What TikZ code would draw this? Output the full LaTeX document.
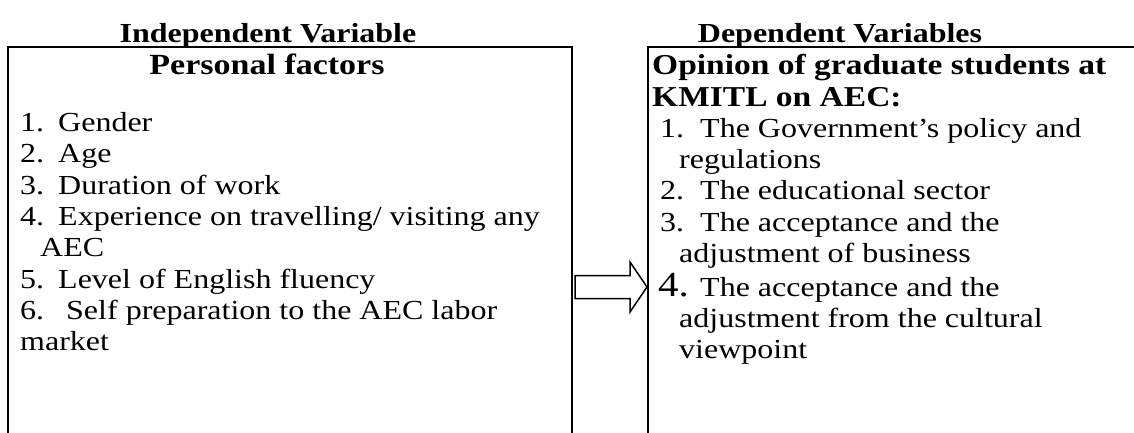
\documentclass[tikz,border=0pt]{standalone}
\usepackage{fontspec}
\setmainfont{Liberation Serif}
\usepackage{tikz}
\usetikzlibrary{calc, positioning}
\newcommand{\lowtext}[1]{\scalebox{1}[0.86]{#1}}

\begin{document}
\begin{tikzpicture}[
    x=1pt, y=-1pt,
    frame/.style={draw, line width=2.2pt},
    title/.style={inner sep=0pt, anchor=base, font=\fontsize{32}{32}\selectfont\bfseries},
    heading/.style={inner sep=0pt, font=\fontsize{33.5}{33.5}\selectfont\bfseries},
    item/.style={inner sep=0pt, anchor=base west, font=\fontsize{32}{32}\selectfont},
    bignum/.style={inner sep=0pt, anchor=base west, font=\fontsize{41}{41}\selectfont},
    blockarrow/.style={draw, line width=1.5pt, line join=miter}
]
    \clip (0,0) rectangle (1134,432);
    \useasboundingbox (0,0) rectangle (1134,432);

    % the two frames run past the edges of the picture
    \draw[frame] (8,47) rectangle (572,480);
    \draw[frame] (648,47) rectangle (1180,480);
    \coordinate (tail) at (575,287);
    \coordinate (tip) at (647,287);

    % independent side
    \node[title] (indep) at (268,42) {\lowtext{Independent Variable}};
    \node[heading, anchor=base] (personal) at (267,74) {\lowtext{\fontsize{34}{34}\selectfont Personal factors}};
    \node[item] (n1) at (20,131) {\lowtext{1.}};
    \node[item] (i1) at (58,131) {\lowtext{Gender}};
    \node[item] (n2) at (20,162.5) {\lowtext{2.}};
    \node[item] (i2) at (58,162.5) {\lowtext{Age}};
    \node[item] (n3) at (20,194) {\lowtext{3.}};
    \node[item] (i3) at (58,194) {\lowtext{Duration of work}};
    \node[item] (n4) at (20,225) {\lowtext{4.}};
    \node[item] (i4) at (58,225) {\lowtext{Experience on travelling/ visiting any}};
    \node[item] (i4b) at (40,256) {\lowtext{AEC}};
    \node[item] (n5) at (20,288) {\lowtext{5.}};
    \node[item] (i5) at (58,288) {\lowtext{Level of English fluency}};
    \node[item] (n6) at (20,319) {\lowtext{6.}};
    \node[item] (i6) at (66,319) {\lowtext{Self preparation to the AEC labor}};
    \node[item] (i6b) at (20,350) {\lowtext{market}};

    % dependent side
    \node[title] (dep) at (840,42) {\lowtext{Dependent Variables}};
    \node[heading, anchor=base west] (opin) at (652,74) {\lowtext{Opinion of graduate students at}};
    \node[heading, anchor=base west] (opinb) at (652,106) {\lowtext{KMITL on AEC:}};
    \node[item] (m1) at (660,137) {\lowtext{1.}};
    \node[item] (j1) at (700,137) {\lowtext{The Government’s policy and}};
    \node[item] (j1b) at (679,168) {\lowtext{regulations}};
    \node[item] (m2) at (660,199) {\lowtext{2.}};
    \node[item] (j2) at (700,199) {\lowtext{The educational sector}};
    \node[item] (m3) at (660,231) {\lowtext{3.}};
    \node[item] (j3) at (700,231) {\lowtext{The acceptance and the}};
    \node[item] (j3b) at (679,262) {\lowtext{adjustment of business}};
    \node[bignum] (m4) at (658,296) {\lowtext{4.}};
    \node[item] (j4) at (700,296) {\lowtext{The acceptance and the}};
    \node[item] (j4b) at (679,327) {\lowtext{adjustment from the cultural}};
    \node[item] (j4c) at (679,358) {\lowtext{viewpoint}};

    % block arrow between the frames
    \draw[blockarrow] ($(tail)+(0,-11.5)$) -- ($(tip)+(-17,-11.5)$) -- ($(tip)+(-17,-25)$)
        -- (tip) -- ($(tip)+(-17,25)$) -- ($(tip)+(-17,11.5)$) -- ($(tail)+(0,11.5)$) -- cycle;
\end{tikzpicture}
\end{document}
